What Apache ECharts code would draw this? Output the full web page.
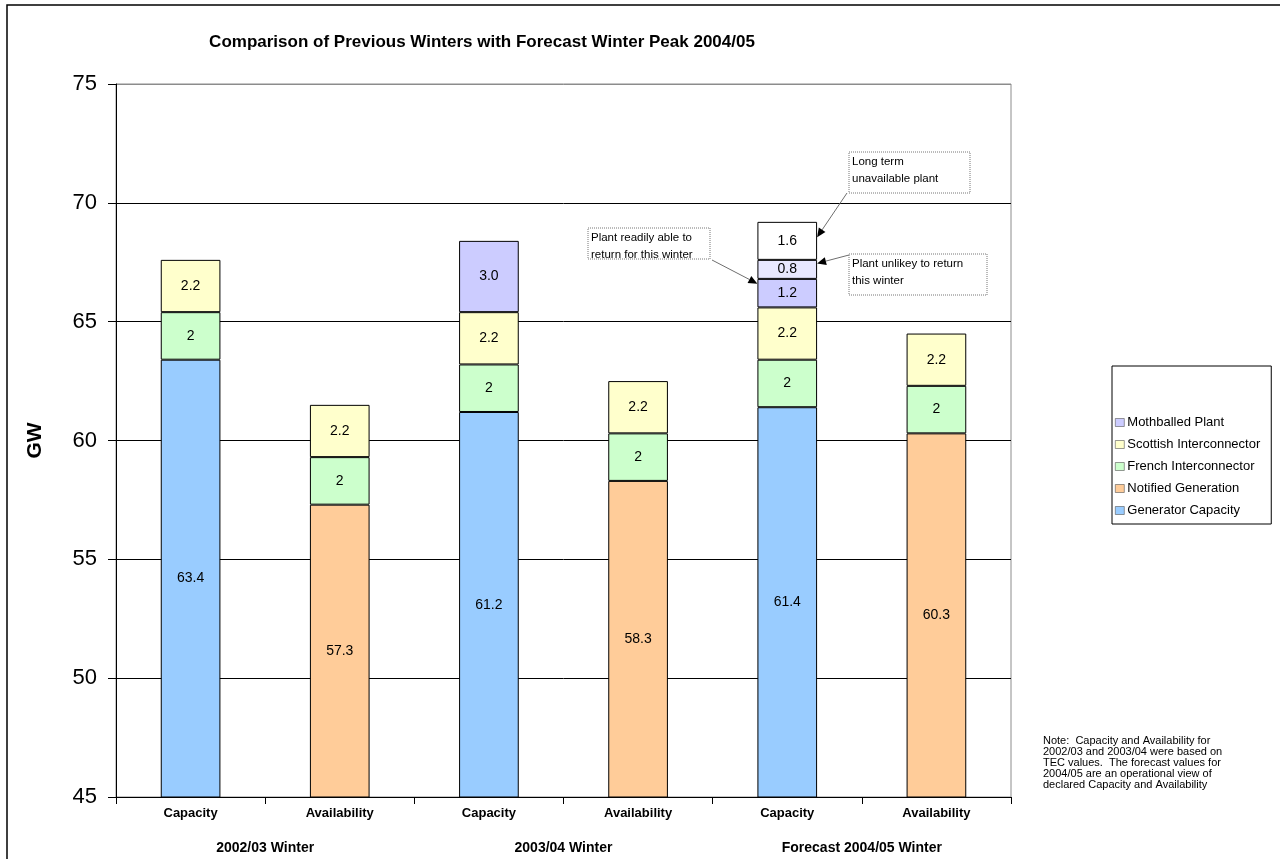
<!DOCTYPE html>
<html>
<head>
<meta charset="utf-8">
<title>Winter peak comparison</title>
<script src="https://cdn.jsdelivr.net/npm/echarts@6/dist/echarts.min.js"></script>
<style>
  html, body { margin: 0; padding: 0; background: #fff; }
  #main { width: 1280px; height: 859px; }
</style>
</head>
<body>
<div id="main"></div>
<script>
// categories
var barNames = ['Capacity', 'Availability', 'Capacity', 'Availability', 'Capacity', 'Availability']
var winterNames = ['2002/03 Winter', '2003/04 Winter', 'Forecast 2004/05 Winter']
// stacked series (GW)
var generatorCapacity = [63.4, '-', 61.2, '-', 61.4, '-']
var notifiedGeneration = ['-', 57.3, '-', 58.3, '-', 60.3]
var frenchInterconnector = [2, 2, 2, 2, 2, 2]
var scottishInterconnector = [2.2, 2.2, 2.2, 2.2, 2.2, 2.2]
var mothballedPlant = ['-', '-', 3.0, '-', 1.2, '-']
var unlikelyPlant = ['-', '-', '-', '-', 0.8, '-']
var longTermPlant = ['-', '-', '-', '-', 1.6, '-']
var yTicks = [45, 50, 55, 60, 65, 70, 75]

var FONT = 'Liberation Sans, Arial, sans-serif'

var chart = echarts.init(document.getElementById('main'))

function barSeries(name, data, color, fmt) {
  return {
    name: name,
    type: 'bar',
    stack: 'total',
    barWidth: '40%',
    data: data,
    itemStyle: { color: color, borderColor: '#000', borderWidth: 1 },
    label: {
      show: true,
      position: 'inside',
      color: '#000',
      fontSize: 14,
      fontFamily: FONT,
      formatter: fmt || function (p) { return p.value }
    }
  }
}

var oneDecimal = function (p) { return Number(p.value).toFixed(1) }

chart.setOption({
  animation: false,
  title: {
    text: 'Comparison of Previous Winters with Forecast Winter Peak 2004/05',
    left: 477,
    textAlign: 'center',
    top: 29,
    textStyle: { fontSize: 17, fontWeight: 'bold', color: '#000', fontFamily: FONT }
  },
  legend: {
    orient: 'vertical',
    left: 1112,
    top: 366,
    padding: [50, 11, 7, 3],
    itemGap: 9,
    itemWidth: 9,
    itemHeight: 8,
    icon: 'rect',
    itemStyle: { borderColor: '#555', borderWidth: 0.6 },
    borderColor: '#000',
    borderWidth: 1,
    textStyle: { fontSize: 13, color: '#000', fontFamily: FONT, padding: [0, 0, 0, -2] },
    data: ['Mothballed Plant', 'Scottish Interconnector', 'French Interconnector', 'Notified Generation', 'Generator Capacity']
  },
  grid: {
    left: 116,
    right: 269,
    top: 84,
    bottom: 62,
    show: true,
    borderColor: '#8c8c8c',
    borderWidth: 1,
    containLabel: false
  },
  xAxis: [
    {
      type: 'category',
      data: barNames,
      axisLine: { lineStyle: { color: '#000', width: 1 } },
      axisTick: { show: true, length: 7, lineStyle: { color: '#000' } },
      axisLabel: { color: '#000', fontSize: 13, fontWeight: 'bold', fontFamily: FONT, margin: 10 }
    },
    {
      type: 'category',
      position: 'bottom',
      offset: 36,
      data: winterNames,
      axisLine: { show: false },
      axisTick: { show: false },
      axisLabel: { color: '#000', fontSize: 14, fontWeight: 'bold', fontFamily: FONT, margin: 8 }
    }
  ],
  yAxis: {
    type: 'value',
    min: yTicks[0],
    max: yTicks[yTicks.length - 1],
    interval: 5,
    name: 'GW',
    nameLocation: 'middle',
    nameGap: 70,
    nameTextStyle: { fontSize: 21, fontWeight: 'bold', color: '#000', fontFamily: FONT },
    axisLine: { show: true, lineStyle: { color: '#000' } },
    axisTick: { show: true, length: 8, lineStyle: { color: '#000' } },
    axisLabel: { color: '#000', fontSize: 22, fontFamily: FONT, margin: 19 },
    splitLine: { show: true, lineStyle: { color: ['#000', '#000', '#000', '#000', '#000', '#000', '#8c8c8c'], width: 1 } }
  },
  series: [
    barSeries('Generator Capacity', generatorCapacity, '#99CCFF'),
    barSeries('Notified Generation', notifiedGeneration, '#FFCC99'),
    barSeries('French Interconnector', frenchInterconnector, '#CCFFCC'),
    barSeries('Scottish Interconnector', scottishInterconnector, '#FFFFCC'),
    barSeries('Mothballed Plant', mothballedPlant, '#CCCCFF', oneDecimal),
    barSeries('Unlikely Plant', unlikelyPlant, '#E8E8FF', oneDecimal),
    barSeries('Long Term Plant', longTermPlant, '#FFFFFF', oneDecimal)
  ]
})

// callouts: boxes are fixed, arrow tips found through the axes
function arrow(x1, y1, x2, y2) {
  var ang = Math.atan2(y2 - y1, x2 - x1)
  var len = 9, half = 4
  var bx = x2 - len * Math.cos(ang), by = y2 - len * Math.sin(ang)
  var px = -Math.sin(ang) * half, py = Math.cos(ang) * half
  return [
    { type: 'line', shape: { x1: x1, y1: y1, x2: bx, y2: by }, style: { stroke: '#6e6e6e', lineWidth: 1 } },
    { type: 'polygon', shape: { points: [[x2, y2], [bx + px, by + py], [bx - px, by - py]] }, style: { fill: '#000' } }
  ]
}

function callout(x, y, w, h, text) {
  return [
    { type: 'rect', shape: { x: x, y: y, width: w, height: h }, style: { fill: '#fff', stroke: '#777', lineWidth: 1, lineDash: [1, 1] }, z: 10 },
    { type: 'text', x: x + 3, y: y + 1, style: { text: text, fontSize: 11.5, fontFamily: FONT, fill: '#000', lineHeight: 17 }, z: 11 }
  ]
}

var halfBar = (chart.convertToPixel({ xAxisIndex: 0 }, barNames[1]) - chart.convertToPixel({ xAxisIndex: 0 }, barNames[0])) * 0.2
var fcX = chart.convertToPixel({ gridIndex: 0 }, [4, 0])[0]
var tipLong = chart.convertToPixel({ gridIndex: 0 }, [4, 68.55])[1]
var tipUnlikely = chart.convertToPixel({ gridIndex: 0 }, [4, 67.45])[1]
var tipReady = chart.convertToPixel({ gridIndex: 0 }, [4, 66.6])[1]

var elements = [
  { type: 'rect', shape: { x: 7, y: 5, width: 1400, height: 1000 }, style: { fill: 'none', stroke: '#000', lineWidth: 1.5 }, silent: true },
  {
    type: 'text', x: 1043, y: 735,
    style: {
      text: 'Note:  Capacity and Availability for\n2002/03 and 2003/04 were based on\nTEC values.  The forecast values for\n2004/05 are an operational view of\ndeclared Capacity and Availability',
      fontSize: 11, lineHeight: 11, fontFamily: FONT, fill: '#000'
    }
  }
]
elements = elements
  .concat(arrow(847, 193, fcX + halfBar, tipLong))
  .concat(arrow(849, 255, fcX + halfBar, tipUnlikely))
  .concat(arrow(712, 260, fcX - halfBar, tipReady))
  .concat(callout(849, 152, 121, 41, 'Long term\nunavailable plant'))
  .concat(callout(849, 254, 138, 41, 'Plant unlikey to return\nthis winter'))
  .concat(callout(588, 228, 122, 31, 'Plant readily able to\nreturn for this winter'))

chart.setOption({ graphic: { elements: elements } })
</script>
</body>
</html>
